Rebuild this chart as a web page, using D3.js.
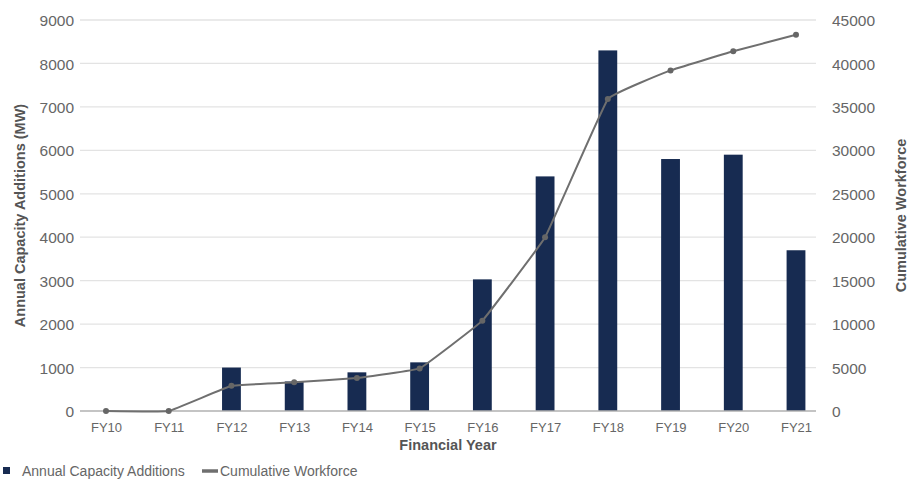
<!DOCTYPE html>
<html>
<head>
<meta charset="utf-8">
<script src="https://cdn.jsdelivr.net/npm/d3@7"></script>
<style>
  html, body { margin: 0; padding: 0; background: #fff; }
  svg { display: block; font-family: "Liberation Sans", Arial, sans-serif; }
</style>
</head>
<body>
<svg id="chart" width="910" height="482"></svg>
<script>
// Financial years and the two series
const years = ["FY10","FY11","FY12","FY13","FY14","FY15","FY16","FY17","FY18","FY19","FY20","FY21"];
const capacityMW = [0, 0, 1000, 680, 890, 1120, 3030, 5400, 8300, 5800, 5900, 3700];
const workforce = [0, 0, 2900, 3300, 3800, 4900, 10400, 20000, 35900, 39200, 41400, 43300];
const leftTicks = [0, 1000, 2000, 3000, 4000, 5000, 6000, 7000, 8000, 9000];
const rightTicks = [0, 5000, 10000, 15000, 20000, 25000, 30000, 35000, 40000, 45000];

const barColor = "#172b51";
const lineColor = "#6f6f6f";
const textColor = "#666";
const titleColor = "#555";

const svg = d3.select("#chart");
const plotLeft = 80, plotRight = 816, plotTop = 20, plotBottom = 411;

const x = d3.scalePoint().domain(years).range([106, 796]);
const barW = x.step() * 0.3;
const yL = d3.scaleLinear().domain([0, 9000]).range([plotBottom, plotTop]);
const yR = d3.scaleLinear().domain([0, 45000]).range([plotBottom, plotTop]);

// gridlines
svg.append("g").selectAll("line")
  .data(leftTicks.filter(d => d > 0))
  .join("line")
  .attr("x1", plotLeft).attr("x2", plotRight)
  .attr("y1", d => yL(d)).attr("y2", d => yL(d))
  .attr("stroke", "#e3e3e3").attr("stroke-width", 1.3);

// left axis labels
const leftAxis = d3.axisLeft(yL).tickValues(leftTicks).tickSize(0).tickPadding(0).tickFormat(d3.format("d"));
const gL = svg.append("g").attr("transform", `translate(${plotLeft - 6},0)`).call(leftAxis);
gL.select(".domain").remove();
gL.selectAll("text").attr("fill", textColor).style("font-size", "15.5px").attr("dy", "0.36em");

// right axis labels
const rightAxis = d3.axisRight(yR).tickValues(rightTicks).tickSize(0).tickPadding(0).tickFormat(d3.format("d"));
const gR = svg.append("g").attr("transform", `translate(${plotRight + 16},0)`).call(rightAxis);
gR.select(".domain").remove();
gR.selectAll("text").attr("fill", textColor).style("font-size", "15.5px").attr("dy", "0.36em");

// bars
svg.append("g").selectAll("rect")
  .data(years.map((y, i) => ({ y, v: capacityMW[i] })))
  .join("rect")
  .attr("x", d => x(d.y) - barW / 2)
  .attr("width", barW)
  .attr("y", d => yL(d.v))
  .attr("height", d => yL(0) - yL(d.v))
  .attr("fill", barColor);

// baseline
svg.append("line")
  .attr("x1", plotLeft).attr("x2", plotRight)
  .attr("y1", plotBottom).attr("y2", plotBottom)
  .attr("stroke", "#b0b0b0").attr("stroke-width", 1.5);

// x axis labels
const xAxis = d3.axisBottom(x).tickSize(0).tickPadding(0);
const gX = svg.append("g").attr("transform", `translate(0,${plotBottom + 16})`).call(xAxis);
gX.select(".domain").remove();
gX.selectAll("text").attr("fill", textColor).style("font-size", "13px").attr("dy", "0.36em");

// cumulative workforce line (lightly smoothed)
const pts = years.map((y, i) => [x(y), yR(workforce[i])]);
svg.append("path")
  .attr("d", d3.line().curve(d3.curveCardinal.tension(0.8))(pts))
  .attr("fill", "none").attr("stroke", lineColor).attr("stroke-width", 2);
svg.append("g").selectAll("circle")
  .data(pts).join("circle")
  .attr("cx", d => d[0]).attr("cy", d => d[1]).attr("r", 3)
  .attr("fill", "#666");

// axis titles
svg.append("text")
  .attr("x", 448).attr("y", 445).attr("dy", "0.36em")
  .attr("text-anchor", "middle").attr("fill", titleColor)
  .style("font-size", "14.5px").style("font-weight", "bold")
  .text("Financial Year");
svg.append("text")
  .attr("transform", `translate(20,${(plotTop + plotBottom) / 2}) rotate(-90)`)
  .attr("dy", "0.36em").attr("text-anchor", "middle").attr("fill", titleColor)
  .style("font-size", "14.5px").style("font-weight", "bold")
  .text("Annual Capacity Additions (MW)");
svg.append("text")
  .attr("transform", `translate(901,${(plotTop + plotBottom) / 2}) rotate(-90)`)
  .attr("dy", "0.36em").attr("text-anchor", "middle").attr("fill", titleColor)
  .style("font-size", "14.5px").style("font-weight", "bold")
  .text("Cumulative Workforce");

// legend
const lg = svg.append("g");
lg.append("rect").attr("x", 3).attr("y", 467).attr("width", 7).attr("height", 7).attr("fill", barColor);
lg.append("text").attr("x", 22).attr("y", 471).attr("dy", "0.36em")
  .attr("fill", textColor).style("font-size", "14px").text("Annual Capacity Additions");
lg.append("line").attr("x1", 202).attr("x2", 218).attr("y1", 471).attr("y2", 471)
  .attr("stroke", lineColor).attr("stroke-width", 3.5);
lg.append("text").attr("x", 220).attr("y", 471).attr("dy", "0.36em")
  .attr("fill", textColor).style("font-size", "14px").text("Cumulative Workforce");
</script>
</body>
</html>
